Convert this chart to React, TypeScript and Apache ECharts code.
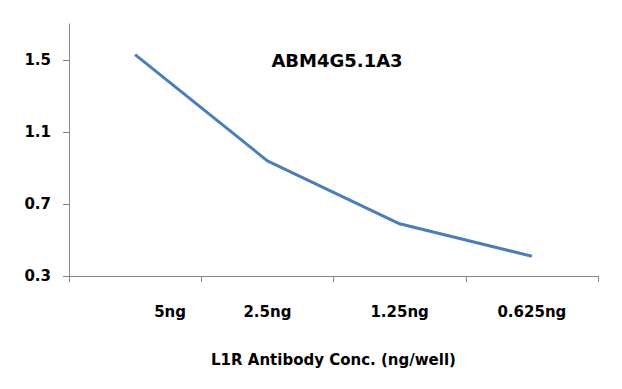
import React, { useEffect, useRef } from "react";
import * as echarts from "echarts";

const categories = ["5ng", "2.5ng", "1.25ng", "0.625ng"];
const values = [1.53, 0.94, 0.59, 0.41];
const yTicks = [0.3, 0.7, 1.1, 1.5];
const titleText = "ABM4G5.1A3";
const xAxisName = "L1R Antibody Conc. (ng/well)";

export default function App() {
  const ref = useRef<HTMLDivElement>(null);
  useEffect(() => {
    if (!ref.current) return;
    const chart = echarts.init(ref.current, null, { renderer: "svg" });
    const font = "'DejaVu Sans', sans-serif";
    chart.setOption({
      animation: false,
      backgroundColor: "#ffffff",
      title: {
        text: titleText,
        left: 332,
        top: 46,
        textAlign: "center",
        textStyle: { fontFamily: font, fontWeight: "bold", fontSize: 18, color: "#000" },
      },
      grid: { left: 69, right: 24, top: 24, bottom: 113, containLabel: false },
      xAxis: {
        type: "category",
        data: categories,
        boundaryGap: true,
        name: xAxisName,
        nameLocation: "middle",
        nameGap: 76,
        nameTextStyle: { fontFamily: font, fontWeight: "bold", fontSize: 15, color: "#000" },
        axisLine: { lineStyle: { color: "#868686", width: 1 } },
        axisTick: { show: true, alignWithLabel: false, length: 6, lineStyle: { color: "#868686" } },
        axisLabel: {
          margin: 28,
          fontFamily: font,
          fontWeight: "bold",
          fontSize: 15,
          color: "#000",
          formatter: (v: string, i: number) => (i === 0 ? `{a|${v}}` : v),
          rich: {
            a: { padding: [0, 0, 0, 70], fontFamily: font, fontWeight: "bold", fontSize: 15, color: "#000" },
          },
        },
        splitLine: { show: false },
      },
      yAxis: {
        type: "value",
        min: 0.3,
        max: 1.7,
        axisLine: { show: true, lineStyle: { color: "#868686", width: 1 } },
        axisTick: { show: true, length: 6, customValues: yTicks, lineStyle: { color: "#868686" } },
        axisLabel: {
          customValues: yTicks,
          margin: 18,
          fontFamily: font,
          fontWeight: "bold",
          fontSize: 15,
          color: "#000",
          formatter: (v: number) => v.toFixed(1),
        },
        splitLine: { show: false },
      },
      series: [
        {
          type: "line",
          data: values,
          symbol: "none",
          lineStyle: { color: "#4a7ebb", width: 3 },
        },
      ],
    });
    return () => chart.dispose();
  }, []);
  return <div ref={ref} style={{ width: 622, height: 389, position: "absolute", left: 0, top: 0 }} />;
}
